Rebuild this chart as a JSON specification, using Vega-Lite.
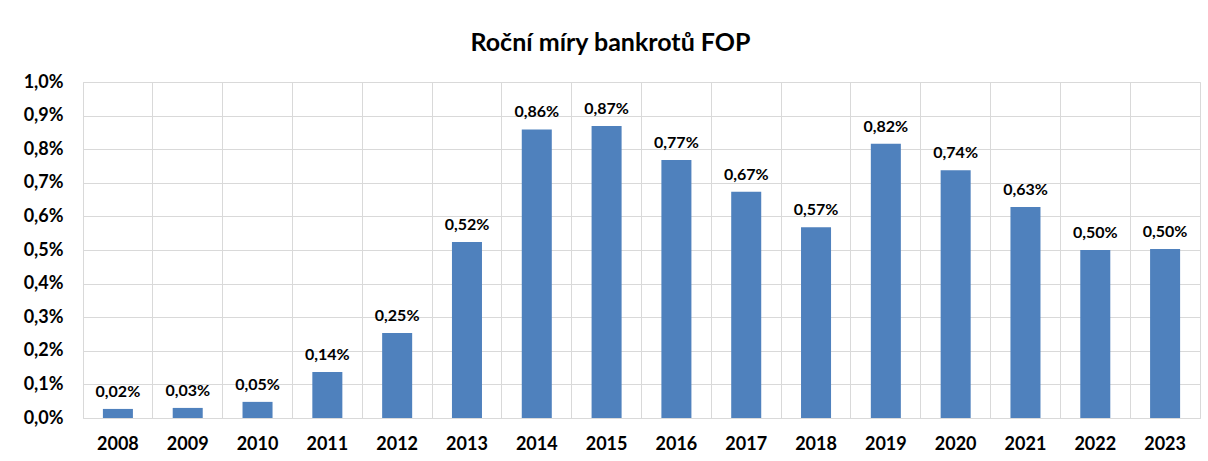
{
  "$schema": "https://vega.github.io/schema/vega-lite/v6.json",
  "autosize": {"type": "none"},
  "width": 1117,
  "height": 336,
  "padding": {"left": 83, "top": 82, "right": 8, "bottom": 43},
  "background": "white",
  "title": {
    "text": "Roční míry bankrotů FOP",
    "font": "Lato",
    "fontSize": 25,
    "fontWeight": "bold",
    "color": "#000000",
    "anchor": "middle",
    "dx": -31,
    "offset": 17
  },
  "data": {
    "values": [
      {"year": "2008", "rate": 0.00027, "label": "0,02%"},
      {"year": "2009", "rate": 0.00030, "label": "0,03%"},
      {"year": "2010", "rate": 0.00048, "label": "0,05%"},
      {"year": "2011", "rate": 0.00137, "label": "0,14%"},
      {"year": "2012", "rate": 0.00253, "label": "0,25%"},
      {"year": "2013", "rate": 0.00524, "label": "0,52%"},
      {"year": "2014", "rate": 0.00859, "label": "0,86%"},
      {"year": "2015", "rate": 0.00869, "label": "0,87%"},
      {"year": "2016", "rate": 0.00768, "label": "0,77%"},
      {"year": "2017", "rate": 0.00673, "label": "0,67%"},
      {"year": "2018", "rate": 0.00568, "label": "0,57%"},
      {"year": "2019", "rate": 0.00816, "label": "0,82%"},
      {"year": "2020", "rate": 0.00737, "label": "0,74%"},
      {"year": "2021", "rate": 0.00628, "label": "0,63%"},
      {"year": "2022", "rate": 0.00500, "label": "0,50%"},
      {"year": "2023", "rate": 0.00503, "label": "0,50%"}
    ]
  },
  "encoding": {
    "y": {
      "field": "rate", "type": "quantitative", "title": null,
      "scale": {"domain": [0, 0.01], "nice": false},
      "axis": {
        "values": [0, 0.001, 0.002, 0.003, 0.004, 0.005, 0.006, 0.007, 0.008, 0.009, 0.01],
        "labelOverlap": false,
        "labelExpr": "replace(format(datum.value, '.1%'), '.', ',')",
        "labelFont": "Lato", "labelFontSize": 18, "labelFontWeight": "bold",
        "labelColor": "#000000", "labelPadding": 20, "ticks": false, "domain": false,
        "grid": true, "gridColor": "#d9d9d9", "gridWidth": 1
      }
    }
  },
  "layer": [
    {
      "mark": {"type": "bar", "color": "#4F81BD", "width": {"band": 0.43}},
      "encoding": {
        "x": {
          "field": "year", "type": "nominal", "title": null,
          "scale": {"paddingInner": 0, "paddingOuter": 0},
          "axis": {
            "labelAngle": 0, "labelFont": "Lato", "labelFontSize": 18, "labelFontWeight": "bold",
            "labelColor": "#000000", "labelPadding": 17, "ticks": false, "domain": false, "grid": false
          }
        }
      }
    },
    {
      "mark": {"type": "text", "baseline": "bottom", "dy": -9, "font": "Lato", "fontSize": 16, "fontWeight": "bold", "color": "#000000"},
      "encoding": {
        "x": {
          "field": "year", "type": "nominal", "title": null,
          "axis": {"labels": false, "ticks": false, "domain": false, "grid": true, "bandPosition": 0, "gridColor": "#d9d9d9", "gridWidth": 1}
        },
        "text": {"field": "label"}
      }
    }
  ],
  "resolve": {"axis": {"x": "independent"}},
  "config": {
    "view": {"stroke": "#d9d9d9", "strokeWidth": 1}
  }
}
